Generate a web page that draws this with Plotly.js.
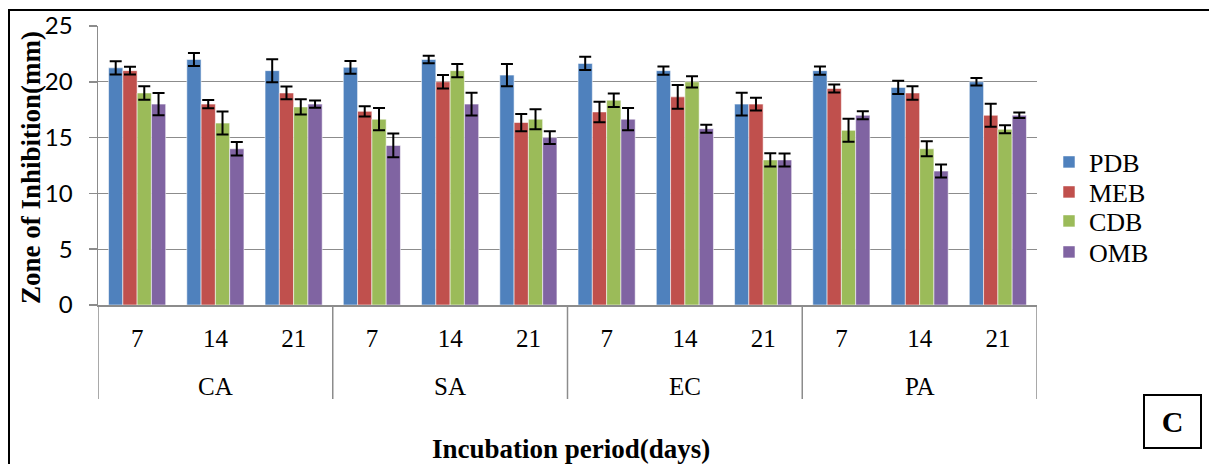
<!DOCTYPE html>
<html>
<head>
<meta charset="utf-8">
<script src="https://cdn.plot.ly/plotly-3.0.1.min.js"></script>
<style>
  html, body { margin: 0; padding: 0; background: #fff; }
  #chart { width: 1209px; height: 464px; }
</style>
</head>
<body>
<div id="chart"></div>
<script>
// Test organisms and incubation periods (days)
const organisms = ['CA', 'SA', 'EC', 'PA'];
const periods = ['7', '14', '21'];

// Mean zone of inhibition (mm), ordered CA 7/14/21, SA 7/14/21, EC ..., PA ...
const pdb = [21.25, 22.0, 21.0, 21.3, 22.0, 20.6, 21.65, 21.0, 18.0, 21.0, 19.5, 20.0];
const meb = [21.0, 18.0, 19.0, 17.35, 20.0, 16.35, 17.3, 18.65, 18.0, 19.4, 19.0, 17.0];
const cdb = [19.0, 16.3, 17.75, 16.65, 21.0, 16.65, 18.35, 20.0, 13.0, 15.65, 14.0, 15.75];
const omb = [18.0, 14.0, 18.0, 14.3, 18.0, 15.0, 16.65, 15.8, 13.0, 17.0, 12.0, 17.0];

// Error (± mm)
const pdbErr = [0.6, 0.58, 1.03, 0.57, 0.34, 1.0, 0.6, 0.37, 1.03, 0.37, 0.6, 0.33];
const mebErr = [0.35, 0.36, 0.57, 0.46, 0.6, 0.77, 0.92, 1.06, 0.58, 0.36, 0.6, 1.03];
const cdbErr = [0.6, 1.03, 0.68, 1.0, 0.6, 0.9, 0.6, 0.5, 0.6, 1.03, 0.68, 0.36];
const ombErr = [1.0, 0.6, 0.33, 1.06, 1.03, 0.58, 1.0, 0.36, 0.58, 0.36, 0.58, 0.24];

const seriesNames = ['PDB', 'MEB', 'CDB', 'OMB'];
const seriesColors = ['#4F81BD', '#C0504D', '#9BBB59', '#8064A2'];
const seriesValues = [pdb, meb, cdb, omb];
const seriesErrors = [pdbErr, mebErr, cdbErr, ombErr];

// One slot per organism/period pair along a numeric axis
const slotIdx = [], slotLabel = [];
organisms.forEach((o, oi) => periods.forEach((p, pi) => {
  slotIdx.push(oi * periods.length + pi);
  slotLabel.push(p);
}));
const nSlots = slotIdx.length;

// Plot area in pixels
const W = 1209, H = 464;
const M = { l: 98, r: W - 1037, t: 26, b: H - 305 };
const PW = W - M.l - M.r, PH = H - M.t - M.b;
const px = v => (v - M.l) / PW;
const py = v => (H - M.b - v) / PH;

const serif = 'Liberation Serif, Times New Roman, serif';
const gray = '#8c8c8c';

// Each series has its own legend box so the rows can sit close together
const legendRows = [162, 192, 221, 252];
const legendIds = ['legend', 'legend2', 'legend3', 'legend4'];

const traces = seriesNames.map((name, i) => ({
  type: 'bar',
  name: name,
  legend: legendIds[i],
  x: slotIdx,
  y: seriesValues[i],
  marker: { color: seriesColors[i], line: { color: 'rgba(255,255,255,0.55)', width: 1 } },
  error_y: { type: 'data', array: seriesErrors[i], visible: true, color: '#000', thickness: 2, width: 6 }
}));

const layout = {
  width: W, height: H,
  margin: M,
  paper_bgcolor: '#fff', plot_bgcolor: '#fff',
  barmode: 'group',
  bargap: 0.27,
  bargroupgap: 0,
  showlegend: true,
  xaxis: {
    type: 'linear',
    range: [-0.5, nSlots - 0.5],
    tickmode: 'array', tickvals: slotIdx, ticktext: slotLabel,
    showline: true, linecolor: gray, linewidth: 1.5,
    ticks: '', showgrid: false, zeroline: false,
    ticklabelstandoff: 10,
    tickfont: { family: serif, size: 25, color: '#000' },
    fixedrange: true
  },
  yaxis: {
    range: [0, 25], dtick: 5,
    showgrid: true, gridcolor: gray, gridwidth: 1.3,
    showline: true, linecolor: gray, linewidth: 1.5,
    ticks: 'outside', ticklen: 8, tickcolor: gray, tickwidth: 1.5,
    ticklabelstandoff: 11,
    tickfont: { family: 'Lato, Carlito, Calibri, sans-serif', size: 24, color: '#000' },
    zeroline: false,
    fixedrange: true
  },
  annotations: [
    {
      xref: 'paper', yref: 'paper', x: px(31), y: py(168), xanchor: 'center', yanchor: 'middle',
      text: '<b>Zone of Inhibition(mm)</b>', textangle: -90, showarrow: false,
      font: { family: serif, size: 27, color: '#000' }
    },
    {
      xref: 'paper', yref: 'paper', x: px(571), y: py(449), xanchor: 'center', yanchor: 'middle',
      text: '<b>Incubation period(days)</b>', showarrow: false,
      font: { family: serif, size: 27, color: '#000' }
    },
    {
      xref: 'paper', yref: 'paper', x: px(1172), y: py(421), xanchor: 'center', yanchor: 'middle',
      text: '<b>C</b>', showarrow: false,
      width: 55, height: 51, borderpad: 0,
      bordercolor: '#000', borderwidth: 2,
      font: { family: serif, size: 30, color: '#000' }
    }
  ],
  shapes: [
    // outer figure frame (left and top edges)
    { type: 'line', xref: 'paper', yref: 'paper', x0: px(9), x1: px(9), y0: py(9), y1: py(470), line: { color: '#000', width: 2 } },
    { type: 'line', xref: 'paper', yref: 'paper', x0: px(9), x1: px(1215), y0: py(10), y1: py(10), line: { color: '#000', width: 2 } }
  ]
};

// Organism labels centred under their three periods, with dividers between groups
organisms.forEach((o, oi) => {
  const first = oi * periods.length;
  layout.annotations.push({
    xref: 'x', yref: 'paper', x: first + (periods.length - 1) / 2, y: py(386),
    xanchor: 'center', yanchor: 'middle',
    text: o, showarrow: false,
    font: { family: serif, size: 25, color: '#000' }
  });
});
for (let k = 0; k <= organisms.length; k++) {
  const xb = k * periods.length - 0.5;
  layout.shapes.push({
    type: 'line', xref: 'x', yref: 'paper', x0: xb, x1: xb, y0: 0, y1: py(399),
    line: { color: gray, width: 1.5 }
  });
}

legendIds.forEach((id, i) => {
  layout[id] = {
    x: px(1049), y: py(legendRows[i]), xanchor: 'left', yanchor: 'middle',
    font: { family: serif, size: 26, color: '#000' },
    itemwidth: 30, bgcolor: 'rgba(0,0,0,0)', borderwidth: 0
  };
});

Plotly.newPlot('chart', traces, layout, { displayModeBar: false, staticPlot: true });
</script>
</body>
</html>
